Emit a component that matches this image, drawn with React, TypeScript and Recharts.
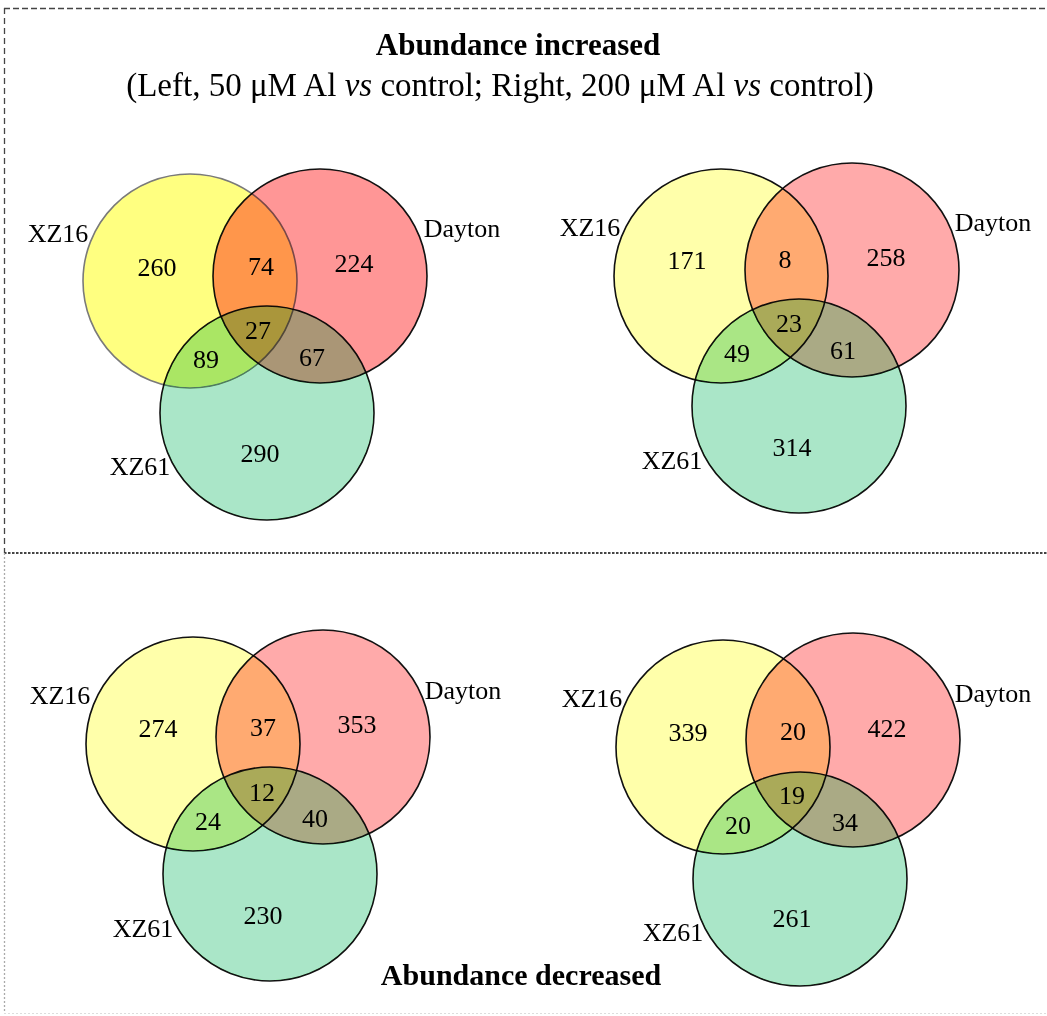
import { ScatterChart, Scatter, XAxis, YAxis } from "recharts";

// ---- data ----
const SETS = ["XZ16", "Dayton", "XZ61"];
// region order: XZ16 only, XZ16∩Dayton, Dayton only, all three, XZ16∩XZ61, Dayton∩XZ61, XZ61 only
const REGIONS = ["XZ16", "XZ16-Dayton", "Dayton", "All", "XZ16-XZ61", "Dayton-XZ61", "XZ61"];
const UP_50 = [260, 74, 224, 27, 89, 67, 290];
const UP_200 = [171, 8, 258, 23, 49, 61, 314];
const DOWN_50 = [274, 37, 353, 12, 24, 40, 230];
const DOWN_200 = [339, 20, 422, 19, 20, 34, 261];

const TITLE_UP = "Abundance increased";
const TITLE_DOWN = "Abundance decreased";

// ---- layout (panel-local units, 1 unit = 1px) ----
const PANEL_W = 523;
const PANEL_H = 416;
const RADIUS = 107;

const CENTERS_TL = [[190, 151], [320, 146], [267, 283]];
const CENTERS_TR = [[198, 146], [329, 140], [276, 276]];
const CENTERS_BL = [[193, 144], [323, 137], [270, 274]];
const CENTERS_BR = [[200, 147], [330, 140], [277, 279]];

const COUNT_POS_TL = [[157, 137], [261, 136], [354, 133], [258, 200], [206, 229], [312, 227], [260, 323]];
const COUNT_POS_TR = [[164, 130], [262, 129], [363, 127], [266, 193], [214, 223], [320, 220], [269, 317]];
const COUNT_POS_BL = [[158, 128], [263, 127], [357, 124], [262, 192], [208, 221], [315, 218], [263, 315]];
const COUNT_POS_BR = [[165, 132], [270, 131], [364, 128], [269, 195], [215, 225], [322, 222], [269, 318]];

const NAME_POS_TL = [[58, 103], [462, 98], [140, 336]];
const NAME_POS_TR = [[67, 97], [470, 92], [149, 330]];
const NAME_POS_BL = [[60, 95], [463, 90], [143, 328]];
const NAME_POS_BR = [[69, 98], [470, 93], [150, 332]];

// fills are multiplied onto each other; the green set gets an extra "darken" layer
const FILLS_STRONG = ["#ffff80", "#ff9696", "#aaffc8"];
const FILLS_LIGHT = ["#ffffaa", "#ffaaaa", "#aaffc8"];
const DARKEN = [null, null, "#ffe6ff"];
const STROKES_TL = ["#7a7a7a", "#111", "#111"];
const STROKES = ["#111", "#111", "#111"];

const FONT = '"Liberation Serif", "Times New Roman", serif';

function CircleShape(props: any) {
  const { cx, cy, payload } = props;
  const r = payload.r * (PANEL_W / PANEL_W); // x-scale: px per unit
  return (
    <g>
      <circle cx={cx} cy={cy} r={r} fill={payload.fill} stroke={payload.stroke} strokeWidth={1.6} style={{ mixBlendMode: "multiply" }} />
      {payload.darken && (
        <circle cx={cx} cy={cy} r={r} fill={payload.darken} stroke="none" style={{ mixBlendMode: "darken" }} />
      )}
    </g>
  );
}

function TextShape(props: any) {
  const { cx, cy, payload } = props;
  return (
    <text x={cx} y={cy} dy="0.34em" textAnchor="middle" fontSize={26} fontFamily={FONT} fill="#000">
      {payload.label}
    </text>
  );
}

interface PanelProps {
  left: number;
  top: number;
  counts: number[];
  centers: number[][];
  countPos: number[][];
  namePos: number[][];
  fills: string[];
  strokes: string[];
}

function VennPanel({ left, top, counts, centers, countPos, namePos, fills, strokes }: PanelProps) {
  const circles = SETS.map((name, i) => ({
    name,
    x: centers[i][0],
    y: centers[i][1],
    r: RADIUS,
    fill: fills[i],
    darken: DARKEN[i],
    stroke: strokes[i],
  }));
  const countLabels = REGIONS.map((region, i) => ({
    region,
    x: countPos[i][0],
    y: countPos[i][1],
    label: String(counts[i]),
  }));
  const nameLabels = SETS.map((name, i) => ({
    x: namePos[i][0],
    y: namePos[i][1],
    label: name,
  }));

  return (
    <div style={{ position: "absolute", left, top }}>
      <ScatterChart width={PANEL_W} height={PANEL_H} margin={{ top: 0, right: 0, bottom: 0, left: 0 }}>
        <XAxis type="number" dataKey="x" domain={[0, PANEL_W]} hide allowDataOverflow />
        <YAxis type="number" dataKey="y" domain={[0, PANEL_H]} hide reversed allowDataOverflow />
        <Scatter data={circles} shape={CircleShape} isAnimationActive={false} />
        <Scatter data={countLabels} shape={TextShape} isAnimationActive={false} />
        <Scatter data={nameLabels} shape={TextShape} isAnimationActive={false} />
      </ScatterChart>
    </div>
  );
}

export default function App() {
  return (
    <div
      style={{
        position: "absolute",
        left: 0,
        top: 0,
        width: 1047,
        height: 1016,
        background: "#fff",
        overflow: "hidden",
        fontFamily: FONT,
      }}
    >
      <svg width={1047} height={1016} style={{ position: "absolute", left: 0, top: 0 }}>
        {/* frame */}
        <line x1={4} y1={8.5} x2={1047} y2={8.5} stroke="#444" strokeWidth={1.3} strokeDasharray="6 3" />
        <line x1={4.5} y1={8} x2={4.5} y2={553} stroke="#444" strokeWidth={1.3} strokeDasharray="6 4" />
        <line x1={4} y1={553} x2={1047} y2={553} stroke="#444" strokeWidth={1.8} strokeDasharray="2.5 1.5" />
        <line x1={4.5} y1={553} x2={4.5} y2={1013} stroke="#aaa" strokeWidth={1.3} strokeDasharray="2 2" />
        <line x1={4} y1={1013.5} x2={1047} y2={1013.5} stroke="#ddd" strokeWidth={1} strokeDasharray="2 2" />

        <text x={518} y={55} textAnchor="middle" fontSize={31} fontWeight="bold" fontFamily={FONT}>
          {TITLE_UP}
        </text>
        <text x={500} y={96} textAnchor="middle" fontSize={33} fontFamily={FONT}>
          (Left, 50 μM Al <tspan fontStyle="italic">vs</tspan> control; Right, 200 μM Al{" "}
          <tspan fontStyle="italic">vs</tspan> control)
        </text>
        <text x={521} y={985} textAnchor="middle" fontSize={30} fontWeight="bold" fontFamily={FONT}>
          {TITLE_DOWN}
        </text>
      </svg>

      <VennPanel left={0} top={130} counts={UP_50} centers={CENTERS_TL} countPos={COUNT_POS_TL} namePos={NAME_POS_TL} fills={FILLS_STRONG} strokes={STROKES_TL} />
      <VennPanel left={523} top={130} counts={UP_200} centers={CENTERS_TR} countPos={COUNT_POS_TR} namePos={NAME_POS_TR} fills={FILLS_LIGHT} strokes={STROKES} />
      <VennPanel left={0} top={600} counts={DOWN_50} centers={CENTERS_BL} countPos={COUNT_POS_BL} namePos={NAME_POS_BL} fills={FILLS_LIGHT} strokes={STROKES} />
      <VennPanel left={523} top={600} counts={DOWN_200} centers={CENTERS_BR} countPos={COUNT_POS_BR} namePos={NAME_POS_BR} fills={FILLS_LIGHT} strokes={STROKES} />
    </div>
  );
}
